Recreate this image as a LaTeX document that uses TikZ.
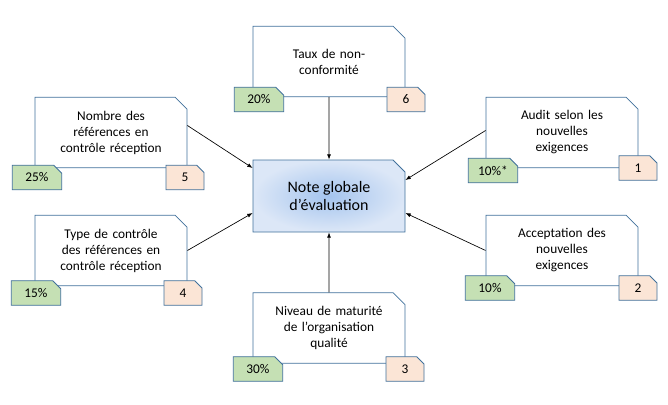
\documentclass[tikz,border=0pt]{standalone}
\usepackage{fontspec}
\setmainfont{Carlito}
\usetikzlibrary{shapes.misc, arrows.meta, positioning}
\definecolor{boxblue}{HTML}{41719C}
\definecolor{tagorange}{HTML}{FBE5D6}
\definecolor{taggreen}{HTML}{C5E0B4}
\definecolor{coreinner}{HTML}{A4C4EE}
\definecolor{coreouter}{HTML}{DCE7F7}

\tikzset{
  snip/.style={chamfered rectangle, chamfered rectangle corners=north east,
    chamfered rectangle xsep=4.5pt, chamfered rectangle ysep=4.5pt,
    draw=boxblue, line width=0.6pt, inner sep=0pt, align=center},
  crit/.style={snip, fill=white, minimum width=114pt, minimum height=53pt, text width=105pt},
  core/.style={snip, inner color=coreinner, outer color=coreouter, minimum width=114pt, minimum height=54pt, font=\large},
  weight/.style={snip, chamfered rectangle xsep=3pt, chamfered rectangle ysep=3pt,
    fill=taggreen, minimum width=37pt, minimum height=18.5pt},
  rank/.style={snip, chamfered rectangle xsep=3pt, chamfered rectangle ysep=3pt,
    fill=tagorange, minimum width=28.5pt, minimum height=18.5pt},
  link/.style={-{Latex[length=4pt,width=3pt]}, line width=0.5pt}
}

\begin{document}
\begin{tikzpicture}[x=0.75pt, y=-0.75pt, font=\normalsize]
    \useasboundingbox (0,0) rectangle (668,404);

    % Center
    \node[core] (note) at (329,196) {Note globale\\d’évaluation};

    % Criteria boxes
    \node[crit] (c6) at (329,61.5) {Taux de non-\\conformité};
    \node[weight] (w6) at (259,99.5) {20\%};
    \node[rank] (r6) at (406,99.5) {6};

    \node[crit] (c5) at (111,132.5) {Nombre des\\références en\\contrôle réception};
    \node[weight] (w5) at (37,177.5) {25\%};
    \node[rank] (r5) at (185,177.5) {5};

    \node[crit] (c4) at (111,250.5) {Type de contrôle\\des références en\\contrôle réception};
    \node[weight] (w4) at (36,293) {15\%};
    \node[rank] (r4) at (183,293) {4};

    \node[crit] (c3) at (329,328) {Niveau de maturité\\de l’organisation\\qualité};
    \node[weight] (w3) at (258,369) {30\%};
    \node[rank] (r3) at (405,369) {3};

    \node[crit] (c1) at (562,132.5) {Audit selon les\\nouvelles\\exigences};
    \node[weight] (w1) at (493,170.5) {10\%*};
    \node[rank] (r1) at (638,168) {1};

    \node[crit] (c2) at (562,250.5) {Acceptation des\\nouvelles\\exigences};
    \node[weight] (w2) at (490,288) {10\%};
    \node[rank] (r2) at (638,288) {2};

    % Links to the center
    \draw[link] (c6) -- (note);
    \draw[link] (c3) -- (note);
    \draw[link] (c5.east) ++(0,-7) coordinate (a5) (a5) -- (note.west |- 0,168);
    \draw[link] (c4.east) ++(0,0) coordinate (a4) (a4) -- (note.west |- 0,213);
    \draw[link] (c1.west) coordinate (a1) (a1) ++(0,-2) -- (note.east |- 0,180);
    \draw[link] (c2.west) coordinate (a2) (a2) -- (note.east |- 0,213);
\end{tikzpicture}
\end{document}
